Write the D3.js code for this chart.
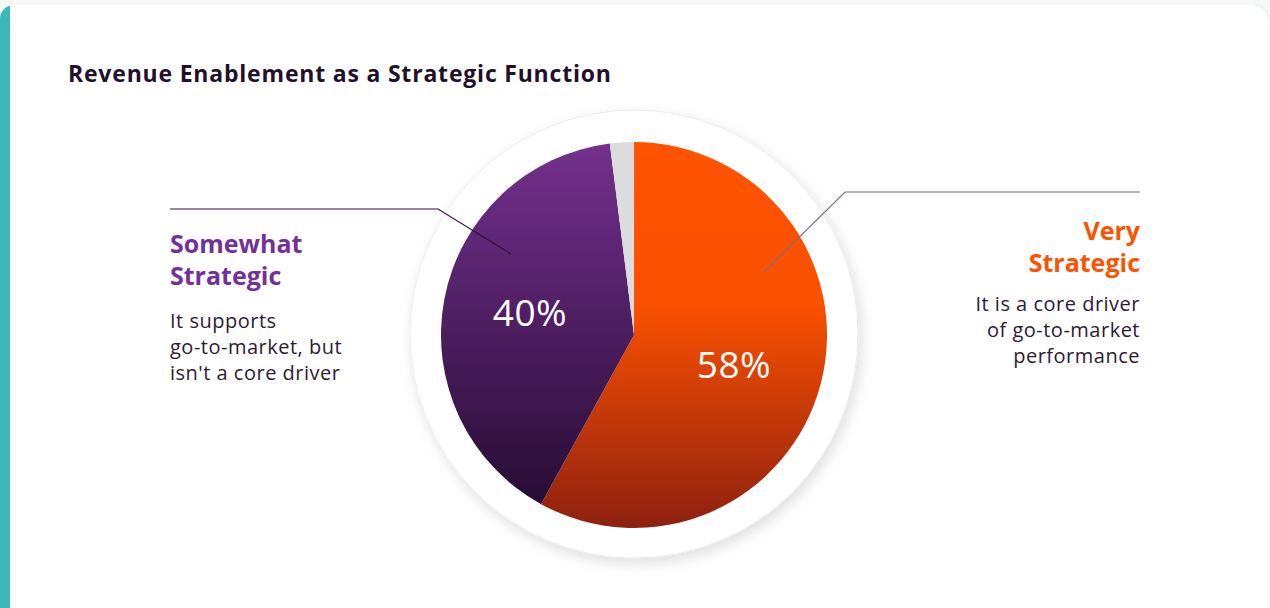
<!DOCTYPE html>
<html lang="en">
<head>
<meta charset="UTF-8">
<title>Revenue Enablement as a Strategic Function</title>
<style>
    body { margin: 0; background: #f7f7f7; }
    svg { display: block; }
    .title { font-family: "Open Sans", sans-serif; font-weight: 700; font-size: 23px; letter-spacing: 0.8px; fill: #22102b; }
    .head { font-family: "Open Sans", sans-serif; font-weight: 700; font-size: 25px; }
    .body { font-family: "Open Sans", sans-serif; font-size: 20px; letter-spacing: 0.5px; fill: #2d1a33; }
    .pct { font-family: "Open Sans", sans-serif; font-size: 37px; letter-spacing: 0.5px; fill: #fff; }
</style>
<script src="https://d3js.org/d3.v7.min.js"></script>
</head>
<body>
<div id="chart"></div>
<script>
// data
const categories = ["Very Strategic", "Somewhat Strategic", "Other"];
const values = [58, 40, 2];
const showPct = [true, true, false];
const headLines = [["Very", "Strategic"], ["Somewhat", "Strategic"], []];
const bodyLines = [
    ["It is a core driver", "of go-to-market", "performance"],
    ["It supports", "go-to-market, but", "isn't a core driver"],
    []
];

const width = 1270, height = 608;
const cx = 634, cy = 335, r = 193;

const svg = d3.select("#chart").append("svg")
    .attr("width", width)
    .attr("height", height);

const defs = svg.append("defs");

// gradients are in the pie group's coordinates (centre at 0,0)
const gOrange = defs.append("linearGradient").attr("id", "gOrange")
    .attr("gradientUnits", "userSpaceOnUse")
    .attr("x1", 0).attr("y1", -r).attr("x2", 0).attr("y2", r);
gOrange.append("stop").attr("offset", "0%").attr("stop-color", "#ff5300");
gOrange.append("stop").attr("offset", "42%").attr("stop-color", "#fa5100");
gOrange.append("stop").attr("offset", "100%").attr("stop-color", "#8e2010");

const gPurple = defs.append("linearGradient").attr("id", "gPurple")
    .attr("gradientUnits", "userSpaceOnUse")
    .attr("x1", 0).attr("y1", -r).attr("x2", 0).attr("y2", r);
gPurple.append("stop").attr("offset", "0%").attr("stop-color", "#74308e");
gPurple.append("stop").attr("offset", "100%").attr("stop-color", "#220a2e");

const shadow = defs.append("filter").attr("id", "shadow")
    .attr("x", "-20%").attr("y", "-20%").attr("width", "140%").attr("height", "140%");
shadow.append("feDropShadow")
    .attr("dx", 3).attr("dy", 5).attr("stdDeviation", 7)
    .attr("flood-color", "#000").attr("flood-opacity", 0.13);

const fills = ["url(#gOrange)", "url(#gPurple)", "#dcdcdc"];
const headColors = ["#ff5200", "#74309a", "#999"];

// card
svg.append("rect")
    .attr("x", 0).attr("y", 5).attr("width", 1268).attr("height", 640)
    .attr("rx", 14).attr("fill", "#3cb8bb");
svg.append("rect")
    .attr("x", 10).attr("y", 5).attr("width", 1258).attr("height", 640)
    .attr("rx", 14).attr("fill", "#fff");
svg.append("rect")
    .attr("x", 10).attr("y", 5).attr("width", 30).attr("height", 640)
    .attr("fill", "#fff");

svg.append("text")
    .attr("class", "title")
    .attr("x", 68).attr("y", 82)
    .text("Revenue Enablement as a Strategic Function");

// outer white disc
svg.append("circle")
    .attr("cx", cx).attr("cy", cy - 1).attr("r", 224)
    .attr("fill", "#fff")
    .attr("stroke", "#ececec").attr("stroke-width", 1)
    .attr("filter", "url(#shadow)");

const pie = d3.pie().sort(null).value(d => d);
const arcs = pie(values);
const arc = d3.arc().innerRadius(0).outerRadius(r);

const g = svg.append("g").attr("transform", `translate(${cx},${cy})`);
g.selectAll("path")
    .data(arcs)
    .enter().append("path")
    .attr("d", arc)
    .attr("fill", (d, i) => fills[i]);

// percentage labels
const labelPos = [[100, 30], [-104, -22]];
g.selectAll("text.pct")
    .data(arcs.filter((d, i) => showPct[i]))
    .enter().append("text")
    .attr("class", "pct")
    .attr("text-anchor", "middle")
    .attr("x", (d, i) => labelPos[i][0])
    .attr("y", (d, i) => labelPos[i][1] + 13)
    .text(d => d.data + "%");

// leader lines
svg.append("polyline")
    .attr("points", "764,272 845,192 1140,192")
    .attr("fill", "none").attr("stroke", "#7d6b86").attr("stroke-width", 1.2);
svg.append("polyline")
    .attr("points", "170,209 438,209 511,254")
    .attr("fill", "none").attr("stroke", "#2d1133").attr("stroke-width", 1.2);

// side labels
const sides = [
    { x: 1140, anchor: "end", headY: 240, bodyY: 311 },
    { x: 170, anchor: "start", headY: 253, bodyY: 328 }
];
sides.forEach((s, i) => {
    const t = svg.append("g");
    headLines[i].forEach((line, j) => {
        t.append("text").attr("class", "head")
            .attr("x", s.x).attr("y", s.headY + j * 32)
            .attr("text-anchor", s.anchor)
            .attr("fill", headColors[i])
            .text(line);
    });
    bodyLines[i].forEach((line, j) => {
        t.append("text").attr("class", "body")
            .attr("x", s.x).attr("y", s.bodyY + j * 26)
            .attr("text-anchor", s.anchor)
            .text(line);
    });
});
</script>
</body>
</html>
